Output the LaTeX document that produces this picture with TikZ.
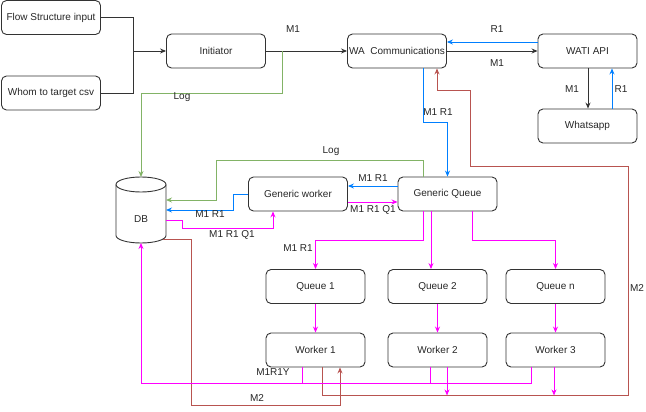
\documentclass[tikz,border=0pt]{standalone}
\usepackage{fontspec}
\setmainfont{Liberation Sans}
\usetikzlibrary{arrows.meta}
\definecolor{cbl}{HTML}{007FFF}
\definecolor{cgr}{HTML}{82B366}
\definecolor{cpk}{HTML}{FF00FF}
\definecolor{crd}{HTML}{B85450}
\definecolor{cbd}{HTML}{333333}
\begin{document}
\begin{tikzpicture}[x=1pt,y=-1pt,
  every node/.style={font=\fontsize{10}{12}\selectfont, text=black!85},
  box/.style={draw=cbd, line width=0.9pt, rounded corners=5pt, minimum width=99pt, minimum height=34pt, inner sep=1pt},
  lbl/.style={inner sep=1pt},
  ln/.style={line width=0.9pt},
  arr/.style={ln, -{Stealth[length=6pt,width=5pt]}},
  blkline/.style={draw=black!80},
  blueline/.style={draw=cbl},
  greenline/.style={draw=cgr},
  pinkline/.style={draw=cpk},
  redline/.style={draw=crd}]
\useasboundingbox (0,0) rectangle (646,412);
% boxes
\node[box] (fsi) at (51,17.5) {Flow Structure input};
\node[box] (wtc) at (51,93) {Whom to target csv};
\node[box] (init) at (216,51) {Initiator};
\node[box] (wa) at (397,51) {WA\ \ Communications};
\node[box] (wati) at (587.5,51) {WATI API};
\node[box] (wapp) at (587.5,126) {Whatsapp};
\node[box] (gw) at (298,194) {Generic worker};
\node[box] (gq) at (447.5,194) {Generic Queue};
\node[box] (q1) at (315.5,286.5) {Queue 1};
\node[box] (q2) at (437.5,286.5) {Queue 2};
\node[box] (qn) at (555.5,286.5) {Queue n};
\node[box] (w1) at (315.5,350) {Worker 1};
\node[box] (w2) at (437.5,350) {Worker 2};
\node[box] (w3) at (555.5,350) {Worker 3};
% DB cylinder
\node[minimum width=50pt, minimum height=66pt, inner sep=0pt, outer sep=0pt] (db) at (141,210) {};
\begin{scope}[shift={(141,210)}, x=1pt, y=1pt]
\draw[draw=cbd, line width=0.9pt] (-25,25.5) -- (-25,-25.5) arc[start angle=180,end angle=360,x radius=25,y radius=7.5] -- (25,25.5);
\draw[draw=cbd, line width=0.9pt] (0,25.5) ellipse[x radius=25,y radius=7.5];
\end{scope}
\node[lbl] (dbl) at (141,219) {DB};
% inputs
\coordinate (jn) at (133,51);
\draw[ln,blkline] (fsi.east) -| (jn);
\draw[ln,blkline] (wtc.east) -| (jn);
\draw[arr,blkline] (jn) -- (init.west);
% initiator to WA
\draw[arr,blkline] (init.east) -- (wa.west);
\node[lbl] (lm1a) at (293,29) {M1};
\coordinate (g1) at (282,51);
\draw[arr,greenline] (g1) -- (282,93) -| (db.north);
\node[lbl] (llog1) at (182,97) {Log};
% WA <-> WATI
\draw[arr,blueline] ([yshift=9pt]wati.west) -- ([yshift=9pt]wa.east);
\node[lbl] (lr1a) at (497,29) {R1};
\draw[arr,blkline] (wa.east) -- (wati.west);
\node[lbl] (lm1b) at (497,63) {M1};
% WATI <-> Whatsapp
\draw[arr,blkline] ([xshift=0.5pt]wati.south) -- ([xshift=0.5pt]wapp.north);
\node[lbl] (lm1c) at (572,89) {M1};
\draw[arr,blueline] ([xshift=24.5pt]wapp.north) -- ([xshift=24.5pt]wati.south);
\node[lbl] (lr1b) at (621,89) {R1};
% WA -> Generic Queue
\draw[arr,blueline] ([xshift=26pt]wa.south) -- ++(0,54) -| (gq.north);
\node[lbl] (lm1r1a) at (438,112) {M1 R1};
% red M2 loop to WA
\draw[arr,redline] ([xshift=6.5pt]w1.south) |- (628,395) |- (470,166) |- (437,90) -- ([xshift=40pt]wa.south);
\node[lbl] (lm2a) at (637,288) {M2};
% red DB -> worker 1
\draw[arr,redline] ([xshift=22pt,yshift=4pt]db.south) -| (191,405) -| ([xshift=24.5pt]w1.south);
\node[lbl] (lm2b) at (257,398) {M2};
% green log from GQ
\draw[arr,greenline] ([xshift=-24.5pt]gq.north) |- (216,160) |- ([yshift=10pt]db.east);
\node[lbl] (llog2) at (331,151) {Log};
% GQ <-> GW
\draw[arr,blueline] ([yshift=8pt]gq.west) -- ([yshift=8pt]gw.east);
\node[lbl] (lm1r1b) at (373,178) {M1 R1};
\draw[arr,pinkline] ([yshift=-8pt]gw.east) -- ([yshift=-8pt]gq.west);
\node[lbl] (lm1r1q1a) at (373,210) {M1 R1 Q1};
% GW <-> DB
\draw[arr,blueline] (gw.west) -| (233,210) -- (db.east);
\node[lbl] (lm1r1c) at (210,214) {M1 R1};
\draw[arr,pinkline] ([yshift=-10pt]db.east) -| (182,228) -| ([xshift=-25pt]gw.south);
\node[lbl] (lm1r1q1b) at (232,235) {M1 R1 Q1};
% GQ -> queues
\draw[arr,pinkline] ([xshift=-24.5pt]gq.south) -- ++(0,29) -| (q1.north);
\node[lbl] (lm1r1d) at (298,248) {M1 R1};
\draw[arr,pinkline] ([xshift=-16.5pt]gq.south) -- ([xshift=-6.5pt]q2.north);
\draw[arr,pinkline] ([xshift=24.5pt]gq.south) -- ++(0,29) -| (qn.north);
% queues -> workers
\draw[arr,pinkline] (q1) -- (w1);
\draw[arr,pinkline] (q2) -- (w2);
\draw[arr,pinkline] (qn) -- (w3);
% workers -> DB
\draw[arr,pinkline] ([xshift=-24.5pt]w3.south) -- ++(0,16) -| (db.south);
\draw[ln,pinkline] ([xshift=-13.5pt]w1.south) -- ++(0,16);
\draw[ln,pinkline] ([xshift=-7.5pt]w2.south) -- ++(0,16);
\node[lbl] (lm1r1y) at (273,372) {M1R1Y};
\draw[arr,pinkline] ([xshift=9.5pt]w2.south) -- ++(0,28);
\draw[arr,pinkline] ([xshift=-1.5pt]w3.south) -- ++(0,28);
\end{tikzpicture}
\end{document}
